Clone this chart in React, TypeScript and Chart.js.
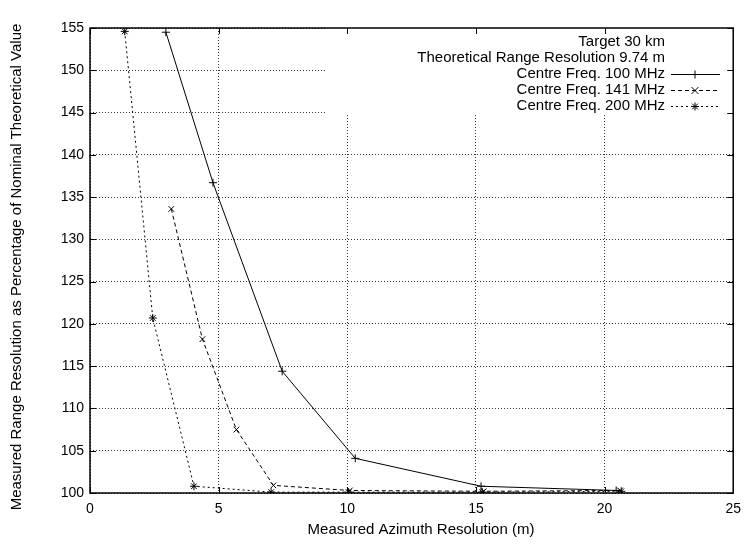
import React, { useEffect, useRef } from "react";
import { Chart, registerables } from "chart.js";

Chart.register(...registerables);

const xLabel = "Measured Azimuth Resolution (m)";
const yLabel = "Measured Range Resolution as Percentage of Nominal Theoretical Value";
const keyHeader = ["Target 30 km", "Theoretical Range Resolution 9.74 m"];
const seriesNames = ["Centre Freq. 100 MHz", "Centre Freq. 141 MHz", "Centre Freq. 200 MHz"];

const x100 = [2.95, 4.78, 7.47, 10.31, 15.2, 20.45];
const y100 = [154.5, 136.7, 114.4, 104.1, 100.8, 100.3];
const x141 = [3.16, 4.37, 5.69, 7.13, 10.1, 15.3, 20.6];
const y141 = [133.6, 118.2, 107.5, 100.9, 100.3, 100.2, 100.3];
const x200 = [1.35, 2.44, 4.04, 7.04, 10.05, 15.25, 20.65];
const y200 = [154.6, 120.7, 100.8, 100.1, 100.1, 100.1, 100.2];

const xTicks = [0, 5, 10, 15, 20, 25];
const yTicks = [100, 105, 110, 115, 120, 125, 130, 135, 140, 145, 150, 155];

const FONT = "'Liberation Sans', Arial, sans-serif";
const styles = [
  { dash: [] as number[], point: "cross" },
  { dash: [4, 3], point: "crossRot" },
  { dash: [2, 3], point: "star" },
];

function pts(xs: number[], ys: number[]) {
  return xs.map((x, i) => ({ x, y: ys[i] }));
}

function drawMarker(ctx: CanvasRenderingContext2D, style: string, x: number, y: number, r: number) {
  ctx.beginPath();
  const d = r * Math.SQRT1_2;
  if (style === "cross" || style === "star") {
    ctx.moveTo(x - r, y); ctx.lineTo(x + r, y);
    ctx.moveTo(x, y - r); ctx.lineTo(x, y + r);
  }
  if (style === "crossRot" || style === "star") {
    const k = style === "star" ? d : r * 0.85;
    ctx.moveTo(x - k, y - k); ctx.lineTo(x + k, y + k);
    ctx.moveTo(x - k, y + k); ctx.lineTo(x + k, y - k);
  }
  ctx.stroke();
}

const framePlugin = {
  id: "gnuFrame",
  beforeDatasetsDraw(chart: any) {
    const ctx = chart.ctx as CanvasRenderingContext2D;
    const a = chart.chartArea;
    ctx.save();
    ctx.fillStyle = "#ffffff";
    ctx.fillRect(327, a.top, a.right - 327, 113 - a.top);
    ctx.restore();
  },
  afterDraw(chart: any) {
    const ctx = chart.ctx as CanvasRenderingContext2D;
    const a = chart.chartArea;
    const xs = chart.scales.x;
    const ys = chart.scales.y;
    ctx.save();
    ctx.strokeStyle = "#000";
    ctx.lineWidth = 1;
    ctx.beginPath();
    for (const t of xTicks) {
      const px = Math.round(xs.getPixelForValue(t)) + 0.5;
      ctx.moveTo(px, a.bottom); ctx.lineTo(px, a.bottom - 6);
      ctx.moveTo(px, a.top); ctx.lineTo(px, a.top + 6);
    }
    for (const t of yTicks) {
      const py = Math.round(ys.getPixelForValue(t)) + 0.5;
      ctx.moveTo(a.left, py); ctx.lineTo(a.left + 6, py);
      ctx.moveTo(a.right, py); ctx.lineTo(a.right - 6, py);
    }
    ctx.stroke();
    ctx.lineWidth = 1.5;
    ctx.strokeRect(a.left, a.top, a.right - a.left, a.bottom - a.top);

    ctx.fillStyle = "#000";
    ctx.font = `15px ${FONT}`;
    ctx.textAlign = "center";
    ctx.textBaseline = "middle";
    ctx.fillText(xLabel, 421, 530);
    ctx.save();
    ctx.translate(17, 267);
    ctx.rotate(-Math.PI / 2);
    ctx.fillText(yLabel, 0, 0);
    ctx.restore();

    ctx.textAlign = "right";
    const rows = [...keyHeader, ...seriesNames];
    rows.forEach((t, i) => {
      ctx.fillText(t, 665, 42 + i * 16);
    });
    seriesNames.forEach((_, i) => {
      const y = Math.round(74 + i * 16) + 0.5;
      ctx.lineWidth = 1;
      ctx.setLineDash(styles[i].dash);
      ctx.beginPath();
      ctx.moveTo(671, y); ctx.lineTo(720, y);
      ctx.stroke();
      ctx.setLineDash([]);
      drawMarker(ctx, styles[i].point, 695, y, 4);
    });
    ctx.restore();
  },
};

export default function App() {
  const ref = useRef<HTMLCanvasElement>(null);
  useEffect(() => {
    if (!ref.current) return;
    const series = [pts(x100, y100), pts(x141, y141), pts(x200, y200)];
    const chart = new Chart(ref.current, {
      type: "scatter",
      data: {
        datasets: series.map((d, i) => ({
          label: seriesNames[i],
          data: d,
          showLine: true,
          borderColor: "#000",
          backgroundColor: "#000",
          borderWidth: 1,
          borderDash: styles[i].dash,
          pointStyle: styles[i].point as any,
          pointRadius: 4,
          pointBorderWidth: 1,
          pointBorderColor: "#000",
          pointHoverRadius: 4,
          tension: 0,
        })),
      },
      options: {
        responsive: false,
        animation: false,
        devicePixelRatio: 1,
        events: [],
        layout: { padding: { left: 0, right: 10, top: 28, bottom: 0 } },
        plugins: {
          legend: { display: false },
          tooltip: { enabled: false },
        },
        scales: {
          x: {
            type: "linear",
            min: 0,
            max: 25,
            afterBuildTicks: (s: any) => { s.ticks = xTicks.map((v) => ({ value: v })); },
            afterFit: (s: any) => { s.height = 55; },
            ticks: { color: "#000", font: { family: FONT, size: 14 }, padding: 8 },
            grid: { color: "#333", drawTicks: false, lineWidth: 1 },
            border: { display: false, dash: [1, 2] },
          },
          y: {
            type: "linear",
            min: 100,
            max: 155,
            afterBuildTicks: (s: any) => { s.ticks = yTicks.map((v) => ({ value: v })); },
            afterFit: (s: any) => { s.width = 90; },
            ticks: { color: "#000", font: { family: FONT, size: 14 }, padding: 6 },
            grid: { color: "#333", drawTicks: false, lineWidth: 1 },
            border: { display: false, dash: [1, 2] },
          },
        },
      },
      plugins: [framePlugin],
    });
    return () => chart.destroy();
  }, []);
  return (
    <div style={{ position: "absolute", left: 0, top: 0, width: 749, height: 548, background: "#fff" }}>
      <canvas ref={ref} width={749} height={548} style={{ display: "block" }} />
    </div>
  );
}
